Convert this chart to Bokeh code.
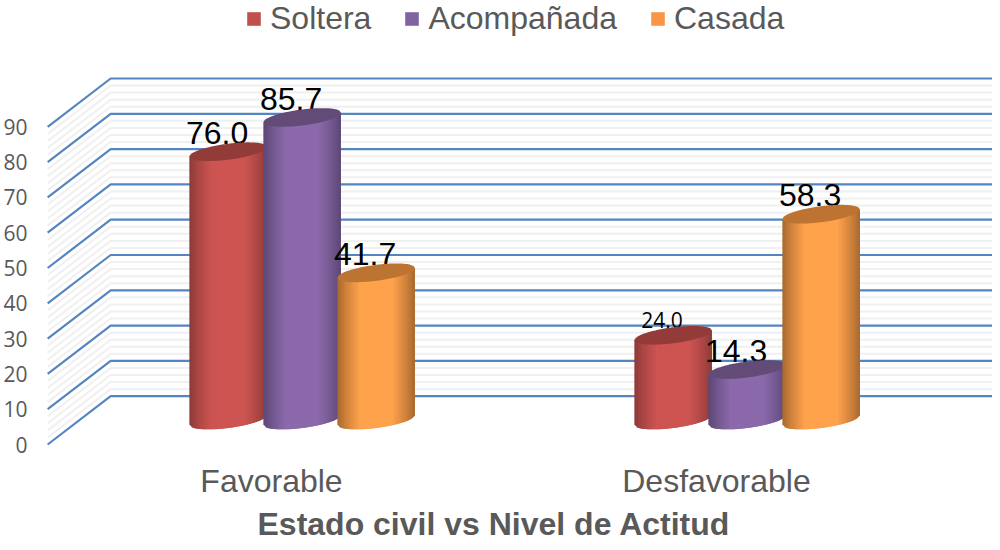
from bokeh.plotting import figure
from bokeh.embed import file_html
from bokeh.resources import INLINE
from bokeh.models import Range1d, FixedTicker, Legend, LegendItem, ColumnDataSource, Label
import numpy as np

categories = ["Favorable", "Desfavorable"]
series_names = ["Soltera", "Acompañada", "Casada"]
soltera = [76.0, 24.0]
acompanada = [85.7, 14.3]
casada = [41.7, 58.3]
y_ticks = [0, 10, 20, 30, 40, 50, 60, 70, 80, 90]
series = [soltera, acompanada, casada]
title_text = "Estado civil vs Nivel de Actitud"

# screen geometry of the reference, expressed once and turned into data units
W, H = 992, 542
LEFT, BOTTOM = 40, 96          # frame inset inside the figure
PX_X = 445.0                   # px per category
PX_Y = 3.53                    # px per value unit
X0_REF, Y0_REF = 279.0, 452.0  # reference pixel of category 0 / value 0
fx0 = LEFT + 8
fy1 = 8 + H - BOTTOM
x_range = Range1d((fx0 - X0_REF) / PX_X, (8 + W - X0_REF) / PX_X)
y_range = Range1d((Y0_REF - fy1) / PX_Y, (Y0_REF - 8) / PX_Y)

p = figure(width=W, height=H, x_range=x_range, y_range=y_range, output_backend="svg",
           toolbar_location=None, min_border_left=LEFT, min_border_right=0,
           min_border_top=0, min_border_bottom=BOTTOM, outline_line_color=None,
           background_fill_color="white", border_fill_color="white")
p.xgrid.visible = False
p.ygrid.visible = False

xa, ya = p.xaxis[0], p.yaxis[0]
xa.ticker = FixedTicker(ticks=[0, 1])
xa.major_label_overrides = {0: categories[0], 1: categories[1]}
xa.axis_line_color = None
xa.major_tick_line_color = None
xa.minor_tick_line_color = None
xa.major_tick_out = 0
xa.major_tick_in = 0
xa.major_label_text_font = "Liberation Sans"
xa.major_label_text_font_size = "32px"
xa.major_label_text_color = "#595959"
xa.major_label_standoff = 16

ya.ticker = FixedTicker(ticks=y_ticks)
ya.axis_line_color = None
ya.major_tick_line_color = None
ya.minor_tick_line_color = None
ya.major_tick_out = 0
ya.major_tick_in = 0
ya.major_label_text_font = "Open Sans"
ya.major_label_text_font_size = "21px"
ya.major_label_text_color = "#595959"
ya.major_label_standoff = 13

# the title sits in the space under the axis, in canvas pixels
p.add_layout(Label(x=493.5, y=523.0, x_units="canvas", y_units="canvas", text=title_text,
                   text_font="Liberation Sans", text_font_size="32px", text_font_style="bold",
                   text_color="#595959", text_align="center", text_baseline="middle"), "below")

# walls: a grid line runs from the front-left edge to the back wall, then right
xf = -0.503
dx = 63.0 / PX_X
dy = 48.3 / PX_Y
xr = x_range.end + 0.1
minor = [v for v in np.arange(0, 90, 2.0) if v % 10 != 0]
p.multi_line([[xf, xf + dx, xr] for _ in minor],
             [[v, v + dy, v + dy] for v in minor], line_color="#f0f0f0", line_width=2)
p.multi_line([[xf, xf + dx, xr] for _ in y_ticks],
             [[v, v + dy, v + dy] for v in y_ticks], line_color="#5585c0", line_width=2.2)

# cylinders
mid = ["#c0504d", "#8064a2", "#f79646"]
hi = ["#cd5451", "#8b69ab", "#ffa24c"]
lo = ["#8a3a38", "#5a4672", "#a3652c"]
cap = ["#933b39", "#634b78", "#bd7433"]
step = 74.0 / PX_X          # neighbour spacing
bw = 77.5 / PX_X            # bar width
cx_shift = dx / 2 - 0.002   # bars stand mid-way in depth
cy_shift = 24.5 / PX_Y
k = 0.125                   # tilt of the ellipse, px per px
b = 8.0 / PX_Y              # ellipse half height in value units
slope = k * PX_X / PX_Y


def shade(c1, c2, t):
    a = [int(c1[i:i + 2], 16) for i in (1, 3, 5)]
    c = [int(c2[i:i + 2], 16) for i in (1, 3, 5)]
    return "#%02x%02x%02x" % tuple(int(round(a[i] + (c[i] - a[i]) * t)) for i in range(3))


# per category, per series
label_sizes = [["32px", "32px", "32px"], ["21px", "32px", "32px"]]
label_fonts = [["Liberation Sans"] * 3, ["Open Sans", "Liberation Sans", "Liberation Sans"]]
label_gap = [[18.5, 18.5, 19.0], [15.0, 19.0, 19.0]]
N = 36
legend_items = []

for s in range(3):
    cxs = [g + cx_shift + (s - 1) * step for g in range(2)]
    # each label goes in just before its own cylinder: hidden by its own cap, over its neighbour
    lab = dict(x=[cx - 11.0 / PX_X for cx in cxs],
               y=[series[s][g] + cy_shift + label_gap[g][s] / PX_Y for g in range(2)],
               t=["%.1f" % v for v in series[s]],
               sz=[label_sizes[g][s] for g in range(2)],
               f=[label_fonts[g][s] for g in range(2)])
    p.text("x", "y", text="t", text_font="f", text_font_size="sz", source=ColumnDataSource(lab),
           text_color="black", text_align="center", text_baseline="alphabetic")
    r = p.vbar(x=cxs, width=bw * 0.4, bottom=cy_shift,
               top=[v + cy_shift for v in series[s]], fill_color=mid[s], line_color=None)
    legend_items.append(LegendItem(label=series_names[s], renderers=[r]))
    for g in range(2):
        v = series[s][g]
        cx, top, base = cxs[g], v + cy_shift, cy_shift
        xs, ys, cols = [], [], []
        edges = np.linspace(-1, 1, N + 1)
        for i in range(N):
            u0, u1 = edges[i], edges[i + 1]
            u1o = min(1, u1 + 2.0 / N)   # overlap so antialiased seams are hidden
            um = (u0 + u1) / 2
            x0, x1 = cx + u0 * bw / 2, cx + u1o * bw / 2
            xs.append([x0, x1, x1, x0])
            t0 = u0 * bw / 2 * slope
            t1 = u1o * bw / 2 * slope
            ys.append([top + t0, top + t1,
                       base + t1 - b * np.sqrt(max(0, 1 - u1o ** 2)),
                       base + t0 - b * np.sqrt(max(0, 1 - u0 ** 2))])
            cols.append(shade(lo[s], hi[s], min(1, (1 - abs(um)) * 1.7) ** 0.8))
        p.patches(xs, ys, fill_color=cols, line_color=None)
        us = np.linspace(-1, 1, 60)
        ex = cx + us * bw / 2
        ey_up = top + us * bw / 2 * slope + b * np.sqrt(1 - us ** 2)
        ey_dn = top + us * bw / 2 * slope - b * np.sqrt(1 - us ** 2)
        p.patch(np.concatenate([ex, ex[::-1]]), np.concatenate([ey_up, ey_dn[::-1]]),
                fill_color=cap[s], line_color=None)

legend = Legend(items=legend_items, orientation="horizontal", location=(205, 409),
                background_fill_alpha=0, border_line_color=None,
                label_text_font="Liberation Sans", label_text_font_size="32px",
                label_text_color="#595959", glyph_width=17, glyph_height=17,
                label_standoff=8, spacing=32, padding=0, margin=0)
p.add_layout(legend, "center")

open("out.html", "w").write(file_html(p, INLINE))
